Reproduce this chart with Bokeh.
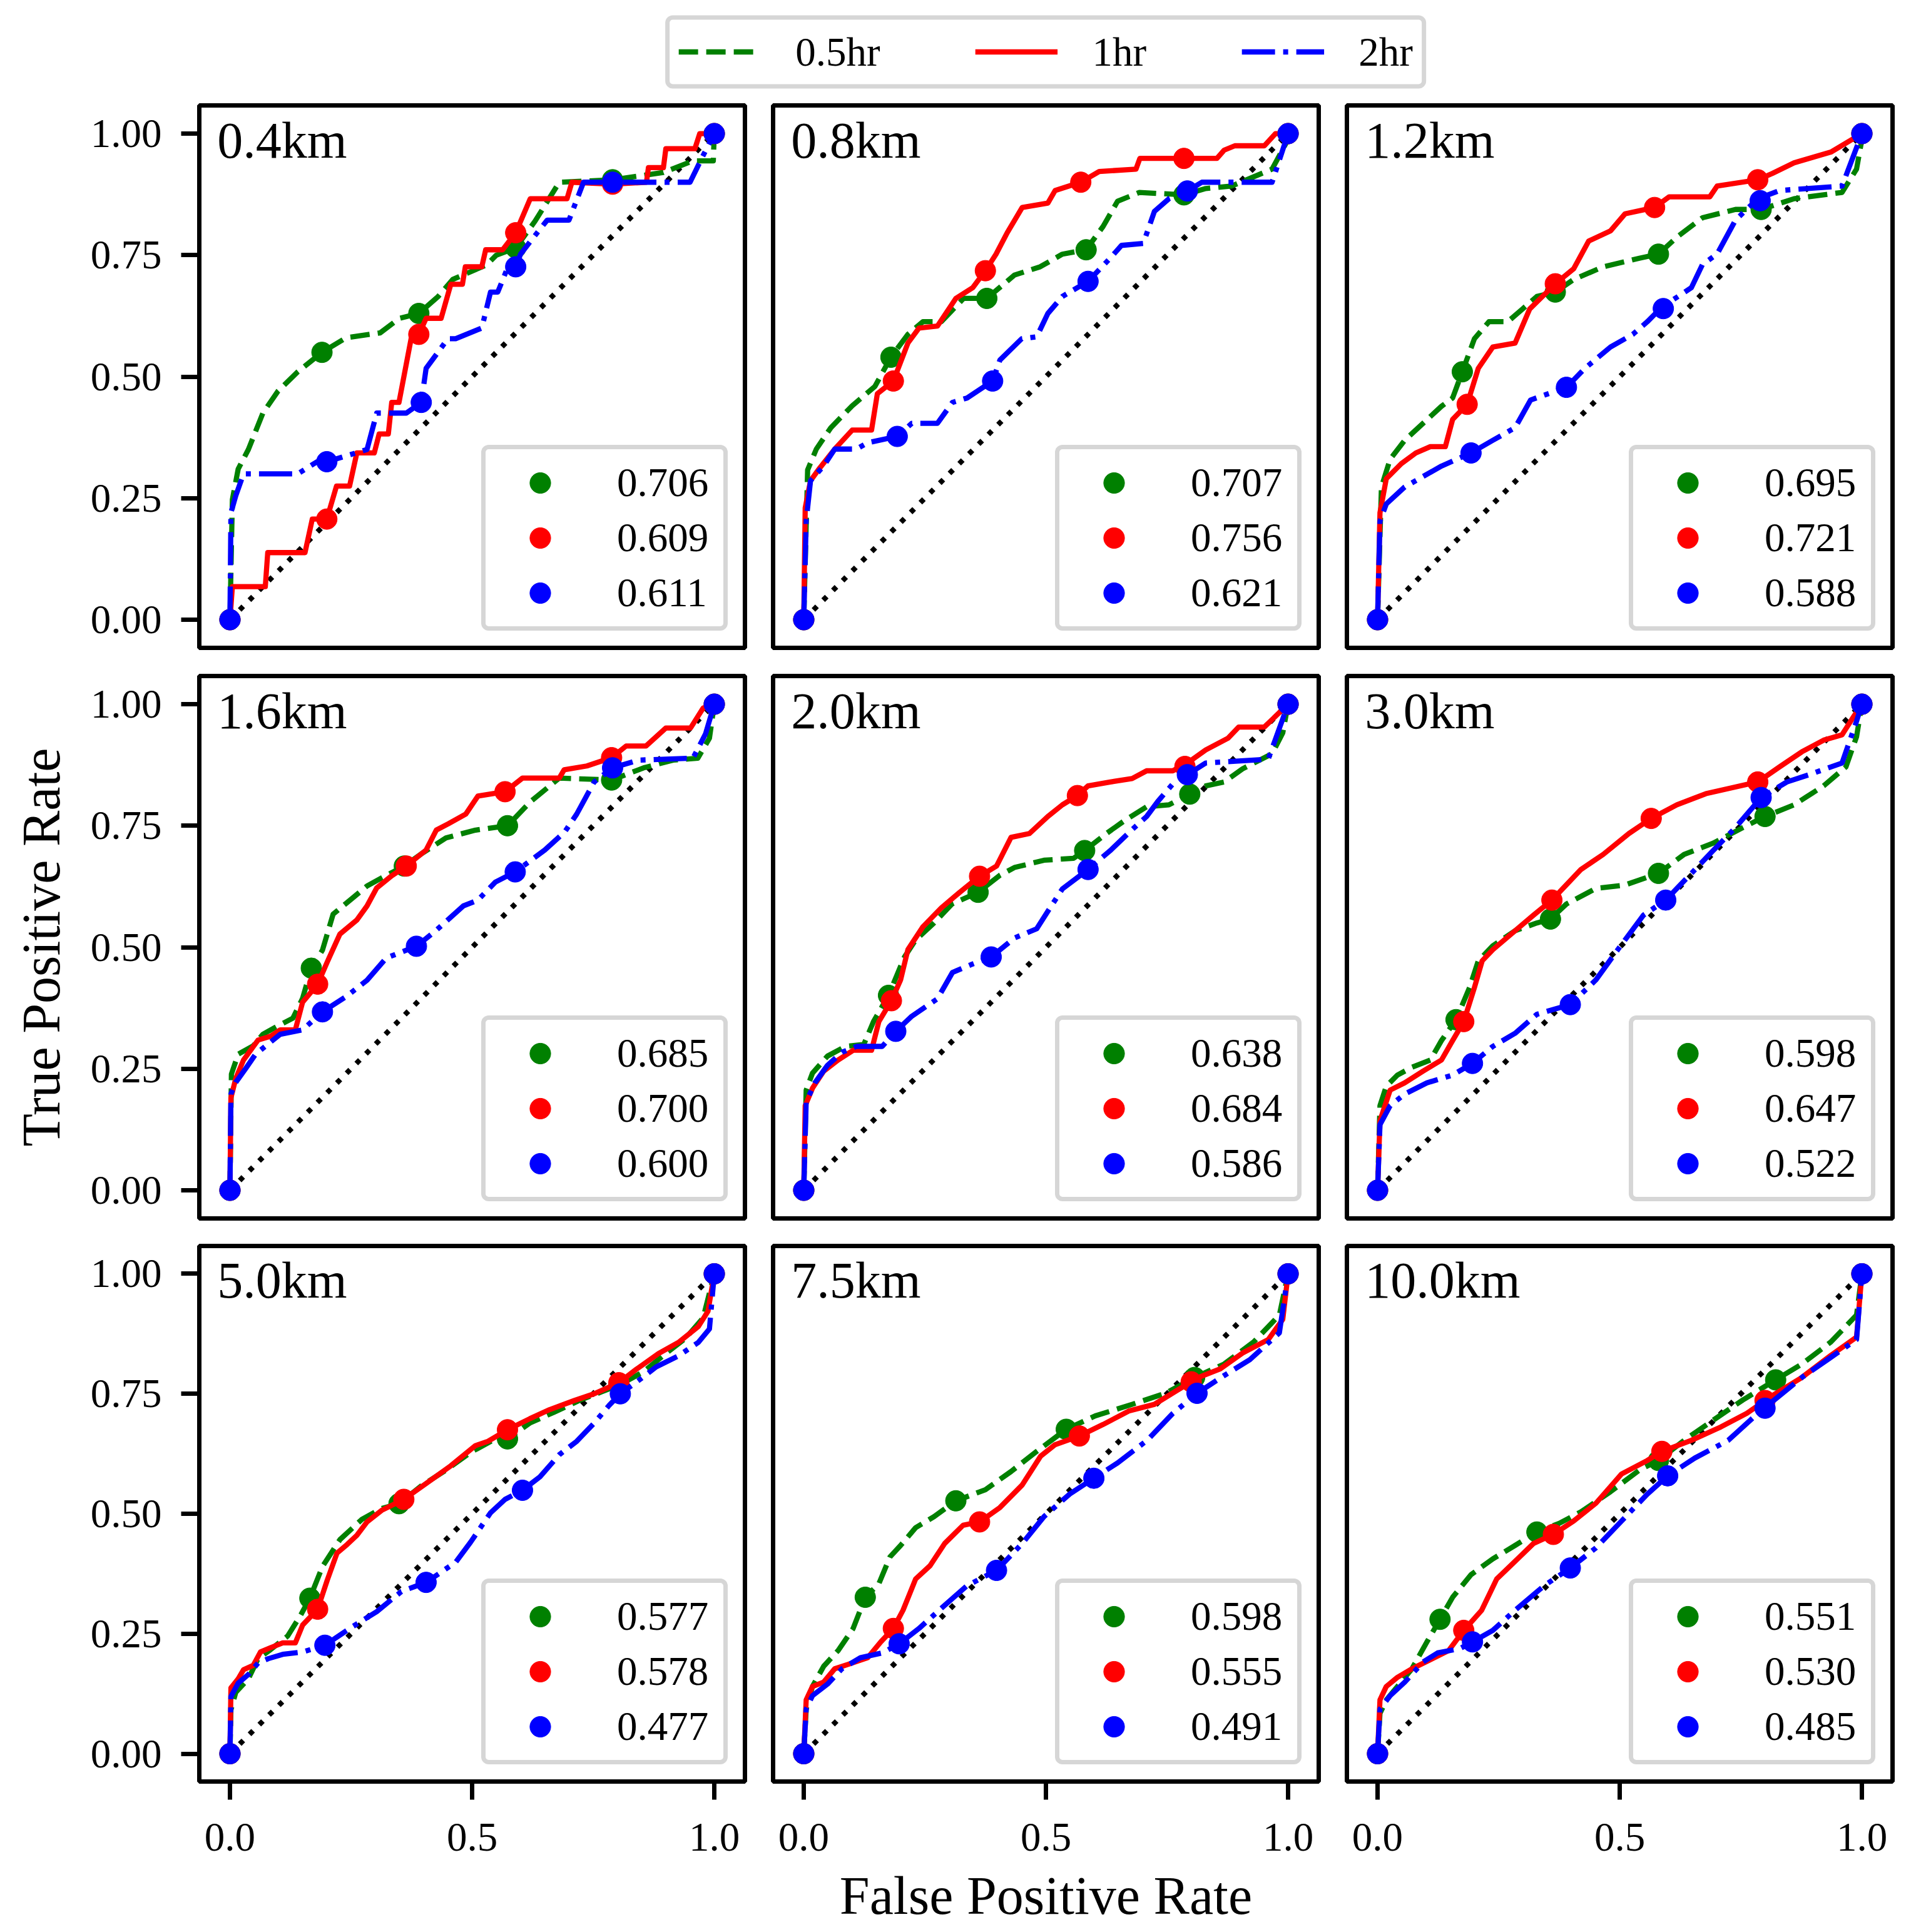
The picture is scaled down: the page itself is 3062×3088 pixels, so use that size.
from bokeh.plotting import figure
from bokeh.layouts import column, row
from bokeh.models import Legend, LegendItem, Range1d, PrintfTickFormatter, Label
from bokeh.embed import file_html
from bokeh.resources import INLINE

# ---- data ----
panel_names = ["0.4km", "0.8km", "1.2km", "1.6km", "2.0km", "3.0km", "5.0km", "7.5km", "10.0km"]
series_names = ["0.5hr", "1hr", "2hr"]

auc_04 = [0.706, 0.609, 0.611]
auc_08 = [0.707, 0.756, 0.621]
auc_12 = [0.695, 0.721, 0.588]
auc_16 = [0.685, 0.700, 0.600]
auc_20 = [0.638, 0.684, 0.586]
auc_30 = [0.598, 0.647, 0.522]
auc_50 = [0.577, 0.578, 0.477]
auc_75 = [0.598, 0.555, 0.491]
auc_100 = [0.551, 0.530, 0.485]

# (fpr, tpr) points of each curve, and the points that carry a marker
km04_h05 = [(0, 0), (0.005, 0.247), (0.017, 0.31), (0.038, 0.35), (0.068, 0.425), (0.099, 0.47), (0.14, 0.51),
            (0.19, 0.55), (0.24, 0.58), (0.31, 0.59), (0.35, 0.62), (0.39, 0.63), (0.43, 0.665), (0.46, 0.70),
            (0.53, 0.73), (0.55, 0.75), (0.59, 0.765), (0.63, 0.82), (0.68, 0.90), (0.79, 0.905), (0.895, 0.92),
            (0.956, 0.944), (0.998, 0.944), (1, 1)]
km04_h05_mk = [(0, 0), (0.19, 0.55), (0.39, 0.63), (0.59, 0.765), (0.79, 0.905), (1, 1)]
km04_h1 = [(0, 0), (0.005, 0.068), (0.073, 0.068), (0.078, 0.138), (0.155, 0.138), (0.17, 0.207), (0.2, 0.207),
           (0.22, 0.275), (0.247, 0.275), (0.262, 0.343), (0.298, 0.343), (0.308, 0.382), (0.327, 0.382),
           (0.334, 0.447), (0.349, 0.447), (0.374, 0.578), (0.39, 0.587), (0.405, 0.62), (0.436, 0.62),
           (0.456, 0.69), (0.48, 0.69), (0.486, 0.726), (0.52, 0.726), (0.528, 0.761), (0.563, 0.761),
           (0.59, 0.796), (0.62, 0.866), (0.696, 0.866), (0.706, 0.9), (0.79, 0.896), (0.86, 0.9), (0.864, 0.93),
           (0.895, 0.93), (0.9, 0.969), (0.96, 0.969), (0.97, 1), (1, 1)]
km04_h1_mk = [(0, 0), (0.2, 0.207), (0.39, 0.587), (0.59, 0.796), (0.79, 0.896), (1, 1)]
km04_h2 = [(0, 0), (0.002, 0.22), (0.012, 0.255), (0.028, 0.3), (0.14, 0.3), (0.18, 0.325), (0.2, 0.325),
           (0.283, 0.35), (0.303, 0.425), (0.364, 0.425), (0.395, 0.447), (0.405, 0.517), (0.45, 0.578),
           (0.466, 0.578), (0.52, 0.6), (0.538, 0.674), (0.553, 0.674), (0.574, 0.726), (0.59, 0.726),
           (0.6, 0.752), (0.62, 0.778), (0.655, 0.822), (0.7, 0.822), (0.73, 0.9), (0.79, 0.9), (0.95, 0.9),
           (0.976, 0.953), (1, 1)]
km04_h2_mk = [(0, 0), (0.2, 0.325), (0.395, 0.447), (0.59, 0.726), (0.79, 0.9), (1, 1)]

km08_h05 = [(0, 0), (0.008, 0.308), (0.026, 0.351), (0.056, 0.395), (0.1, 0.44), (0.147, 0.48), (0.18, 0.54),
            (0.215, 0.587), (0.246, 0.613), (0.284, 0.613), (0.33, 0.661), (0.378, 0.661), (0.435, 0.709),
            (0.488, 0.726), (0.534, 0.752), (0.583, 0.761), (0.618, 0.809), (0.648, 0.861), (0.693, 0.879),
            (0.785, 0.874), (0.83, 0.887), (0.883, 0.892), (0.967, 0.927), (1, 0.988), (1, 1)]
km08_h05_mk = [(0, 0), (0.18, 0.54), (0.378, 0.661), (0.583, 0.761), (0.785, 0.874), (1, 1)]
km08_h1 = [(0, 0), (0.003, 0.23), (0.014, 0.286), (0.033, 0.312), (0.064, 0.351), (0.1, 0.39), (0.14, 0.39),
           (0.152, 0.465), (0.185, 0.491), (0.215, 0.569), (0.238, 0.6), (0.276, 0.604), (0.314, 0.661),
           (0.349, 0.683), (0.375, 0.718), (0.397, 0.752), (0.42, 0.796), (0.451, 0.848), (0.504, 0.857),
           (0.519, 0.883), (0.572, 0.9), (0.61, 0.922), (0.686, 0.927), (0.694, 0.949), (0.853, 0.949),
           (0.868, 0.966), (0.89, 0.975), (0.951, 0.975), (0.974, 1), (1, 1)]
km08_h1_mk = [(0, 0), (0.185, 0.491), (0.375, 0.718), (0.572, 0.9), (0.785, 0.949), (1, 1)]
km08_h2 = [(0, 0), (0.005, 0.203), (0.014, 0.286), (0.041, 0.316), (0.064, 0.351), (0.109, 0.351), (0.132, 0.364),
           (0.193, 0.377), (0.223, 0.404), (0.276, 0.404), (0.307, 0.447), (0.337, 0.456), (0.39, 0.491),
           (0.405, 0.534), (0.45, 0.578), (0.481, 0.582), (0.504, 0.63), (0.534, 0.665), (0.587, 0.696),
           (0.633, 0.744), (0.656, 0.77), (0.701, 0.774), (0.724, 0.84), (0.754, 0.866), (0.792, 0.882),
           (0.822, 0.9), (0.967, 0.9), (1, 1)]
km08_h2_mk = [(0, 0), (0.193, 0.377), (0.39, 0.491), (0.587, 0.696), (0.792, 0.882), (1, 1)]

km12_h05 = [(0, 0), (0.008, 0.273), (0.026, 0.33), (0.056, 0.369), (0.094, 0.404), (0.132, 0.439), (0.155, 0.456),
            (0.175, 0.51), (0.2, 0.578), (0.23, 0.613), (0.269, 0.613), (0.299, 0.639), (0.329, 0.665),
            (0.367, 0.674), (0.405, 0.7), (0.466, 0.726), (0.542, 0.744), (0.58, 0.752), (0.618, 0.787),
            (0.671, 0.827), (0.739, 0.844), (0.792, 0.844), (0.86, 0.866), (0.959, 0.879), (0.989, 0.927),
            (1, 0.988), (1, 1)]
km12_h05_mk = [(0, 0), (0.175, 0.51), (0.367, 0.674), (0.58, 0.752), (0.792, 0.844), (1, 1)]
km12_h1 = [(0, 0), (0.005, 0.22), (0.018, 0.29), (0.049, 0.321), (0.079, 0.343), (0.109, 0.356), (0.14, 0.356),
           (0.155, 0.412), (0.185, 0.443), (0.208, 0.517), (0.238, 0.561), (0.284, 0.569), (0.314, 0.639),
           (0.367, 0.691), (0.405, 0.722), (0.436, 0.779), (0.481, 0.8), (0.511, 0.835), (0.572, 0.848),
           (0.602, 0.87), (0.686, 0.87), (0.701, 0.892), (0.785, 0.905), (0.815, 0.918), (0.86, 0.94),
           (0.936, 0.962), (1, 1)]
km12_h1_mk = [(0, 0), (0.185, 0.443), (0.367, 0.691), (0.572, 0.848), (0.785, 0.905), (1, 1)]
km12_h2 = [(0, 0), (0.005, 0.203), (0.018, 0.238), (0.056, 0.273), (0.086, 0.29), (0.132, 0.316), (0.193, 0.343),
           (0.238, 0.369), (0.284, 0.395), (0.316, 0.452), (0.39, 0.478), (0.428, 0.517), (0.481, 0.561),
           (0.527, 0.587), (0.557, 0.613), (0.587, 0.643), (0.648, 0.683), (0.671, 0.731), (0.701, 0.752),
           (0.739, 0.822), (0.785, 0.866), (0.83, 0.883), (0.959, 0.892), (1, 1)]
km12_h2_mk = [(0, 0), (0.193, 0.343), (0.39, 0.478), (0.59, 0.64), (0.79, 0.862), (1, 1)]

km16_h05 = [(0, 0), (0.003, 0.239), (0.017, 0.28), (0.048, 0.297), (0.068, 0.321), (0.099, 0.338), (0.13, 0.354),
            (0.15, 0.395), (0.168, 0.457), (0.191, 0.494), (0.213, 0.568), (0.253, 0.601), (0.283, 0.626),
            (0.314, 0.643), (0.36, 0.667), (0.395, 0.692), (0.446, 0.725), (0.507, 0.741), (0.573, 0.75),
            (0.62, 0.799), (0.68, 0.848), (0.788, 0.844), (0.854, 0.869), (0.915, 0.885), (0.966, 0.889),
            (0.99, 0.93), (1, 1)]
km16_h05_mk = [(0, 0), (0.168, 0.457), (0.36, 0.667), (0.573, 0.75), (0.788, 0.844), (1, 1)]
km16_h1 = [(0, 0), (0.002, 0.19), (0.012, 0.23), (0.028, 0.268), (0.058, 0.309), (0.084, 0.317), (0.104, 0.33),
           (0.135, 0.33), (0.15, 0.387), (0.181, 0.424), (0.201, 0.47), (0.227, 0.527), (0.262, 0.556),
           (0.283, 0.585), (0.303, 0.622), (0.334, 0.647), (0.364, 0.667), (0.405, 0.7), (0.426, 0.741),
           (0.451, 0.754), (0.487, 0.774), (0.512, 0.811), (0.568, 0.82), (0.604, 0.848), (0.68, 0.848),
           (0.69, 0.865), (0.737, 0.873), (0.788, 0.89), (0.818, 0.914), (0.859, 0.914), (0.9, 0.951),
           (0.951, 0.951), (0.977, 0.992), (1, 1)]
km16_h1_mk = [(0, 0), (0.181, 0.424), (0.364, 0.667), (0.568, 0.82), (0.788, 0.89), (1, 1)]
km16_h2 = [(0, 0), (0.002, 0.198), (0.012, 0.222), (0.033, 0.251), (0.053, 0.28), (0.084, 0.305), (0.104, 0.321),
           (0.15, 0.33), (0.191, 0.367), (0.242, 0.4), (0.283, 0.432), (0.323, 0.478), (0.385, 0.502),
           (0.426, 0.535), (0.482, 0.585), (0.512, 0.597), (0.548, 0.634), (0.589, 0.655), (0.65, 0.7),
           (0.691, 0.737), (0.716, 0.774), (0.752, 0.84), (0.79, 0.869), (0.844, 0.885), (0.956, 0.889),
           (0.982, 0.939), (1, 1)]
km16_h2_mk = [(0, 0), (0.191, 0.367), (0.385, 0.502), (0.589, 0.655), (0.79, 0.869), (1, 1)]

km20_h05 = [(0, 0), (0.005, 0.206), (0.018, 0.241), (0.049, 0.276), (0.086, 0.296), (0.124, 0.3), (0.144, 0.347),
            (0.175, 0.401), (0.208, 0.48), (0.231, 0.515), (0.269, 0.55), (0.306, 0.589), (0.36, 0.613),
            (0.405, 0.648), (0.435, 0.664), (0.496, 0.679), (0.557, 0.683), (0.58, 0.699), (0.625, 0.734),
            (0.663, 0.761), (0.708, 0.789), (0.754, 0.793), (0.797, 0.815), (0.83, 0.832), (0.868, 0.84),
            (0.906, 0.867), (0.967, 0.898), (0.989, 0.941), (1, 1)]
km20_h05_mk = [(0, 0), (0.175, 0.401), (0.36, 0.613), (0.58, 0.699), (0.797, 0.815), (1, 1)]
km20_h1 = [(0, 0), (0.003, 0.174), (0.018, 0.21), (0.041, 0.245), (0.071, 0.268), (0.102, 0.288), (0.14, 0.288),
           (0.155, 0.347), (0.181, 0.39), (0.2, 0.433), (0.215, 0.495), (0.246, 0.542), (0.284, 0.581),
           (0.322, 0.613), (0.363, 0.646), (0.398, 0.667), (0.428, 0.726), (0.466, 0.734), (0.504, 0.769),
           (0.534, 0.793), (0.565, 0.812), (0.587, 0.832), (0.633, 0.84), (0.678, 0.847), (0.708, 0.863),
           (0.762, 0.863), (0.792, 0.879), (0.83, 0.906), (0.876, 0.93), (0.898, 0.953), (0.951, 0.953), (1, 1)]
km20_h1_mk = [(0, 0), (0.181, 0.39), (0.363, 0.646), (0.565, 0.812), (0.787, 0.872), (1, 1)]
km20_h2 = [(0, 0), (0.005, 0.182), (0.023, 0.221), (0.049, 0.257), (0.079, 0.284), (0.109, 0.296), (0.162, 0.296),
           (0.19, 0.327), (0.223, 0.358), (0.276, 0.394), (0.307, 0.448), (0.345, 0.464), (0.387, 0.48),
           (0.435, 0.519), (0.481, 0.538), (0.504, 0.574), (0.534, 0.62), (0.587, 0.66), (0.633, 0.699),
           (0.678, 0.742), (0.708, 0.769), (0.731, 0.8), (0.762, 0.836), (0.792, 0.855), (0.83, 0.879),
           (0.959, 0.887), (1, 1)]
km20_h2_mk = [(0, 0), (0.19, 0.327), (0.387, 0.48), (0.587, 0.66), (0.792, 0.855), (1, 1)]

km30_h05 = [(0, 0), (0.005, 0.174), (0.018, 0.214), (0.041, 0.237), (0.071, 0.253), (0.109, 0.268), (0.132, 0.308),
            (0.162, 0.351), (0.19, 0.417), (0.208, 0.472), (0.238, 0.503), (0.284, 0.534), (0.329, 0.55),
            (0.357, 0.558), (0.39, 0.589), (0.451, 0.621), (0.511, 0.628), (0.58, 0.652), (0.633, 0.691),
            (0.693, 0.714), (0.754, 0.746), (0.8, 0.769), (0.86, 0.793), (0.921, 0.832), (0.967, 0.871),
            (0.989, 0.933), (1, 1)]
km30_h05_mk = [(0, 0), (0.162, 0.351), (0.357, 0.558), (0.58, 0.652), (0.8, 0.769), (1, 1)]
km30_h1 = [(0, 0), (0.005, 0.143), (0.026, 0.206), (0.056, 0.221), (0.094, 0.245), (0.132, 0.268), (0.155, 0.308),
           (0.178, 0.347), (0.2, 0.417), (0.216, 0.472), (0.238, 0.495), (0.284, 0.534), (0.322, 0.566),
           (0.36, 0.597), (0.42, 0.66), (0.466, 0.691), (0.519, 0.734), (0.565, 0.765), (0.618, 0.793),
           (0.678, 0.816), (0.731, 0.828), (0.785, 0.84), (0.83, 0.871), (0.876, 0.902), (0.921, 0.926),
           (0.959, 0.937), (0.982, 0.973), (1, 1)]
km30_h1_mk = [(0, 0), (0.178, 0.347), (0.36, 0.597), (0.565, 0.765), (0.785, 0.84), (1, 1)]
km30_h2 = [(0, 0), (0.005, 0.135), (0.026, 0.174), (0.056, 0.198), (0.102, 0.221), (0.155, 0.237), (0.196, 0.261),
           (0.238, 0.296), (0.284, 0.323), (0.329, 0.362), (0.398, 0.382), (0.451, 0.433), (0.496, 0.495),
           (0.549, 0.566), (0.595, 0.597), (0.648, 0.652), (0.693, 0.699), (0.739, 0.746), (0.792, 0.808),
           (0.845, 0.84), (0.891, 0.855), (0.959, 0.879), (0.989, 0.965), (1, 1)]
km30_h2_mk = [(0, 0), (0.196, 0.261), (0.398, 0.382), (0.595, 0.597), (0.792, 0.808), (1, 1)]

km50_h05 = [(0, 0), (0.002, 0.091), (0.012, 0.128), (0.038, 0.156), (0.058, 0.198), (0.084, 0.217), (0.119, 0.245),
            (0.145, 0.287), (0.165, 0.324), (0.191, 0.39), (0.227, 0.446), (0.272, 0.488), (0.313, 0.511),
            (0.349, 0.521), (0.395, 0.558), (0.446, 0.591), (0.497, 0.628), (0.548, 0.656), (0.573, 0.656),
            (0.619, 0.689), (0.67, 0.712), (0.721, 0.736), (0.767, 0.754), (0.803, 0.768), (0.854, 0.796),
            (0.9, 0.834), (0.941, 0.866), (0.977, 0.908), (1, 1)]
km50_h05_mk = [(0, 0), (0.165, 0.324), (0.349, 0.521), (0.573, 0.656), (0.803, 0.768), (1, 1)]
km50_h1 = [(0, 0), (0.002, 0.137), (0.017, 0.156), (0.028, 0.175), (0.048, 0.184), (0.063, 0.212), (0.084, 0.221),
           (0.109, 0.231), (0.135, 0.231), (0.15, 0.268), (0.181, 0.301), (0.201, 0.362), (0.221, 0.418),
           (0.242, 0.436), (0.262, 0.455), (0.283, 0.483), (0.313, 0.507), (0.359, 0.53), (0.405, 0.563),
           (0.456, 0.6), (0.507, 0.642), (0.533, 0.651), (0.573, 0.675), (0.619, 0.698), (0.66, 0.717),
           (0.711, 0.736), (0.752, 0.75), (0.803, 0.773), (0.839, 0.801), (0.885, 0.834), (0.926, 0.857),
           (0.967, 0.89), (0.987, 0.922), (1, 1)]
km50_h1_mk = [(0, 0), (0.181, 0.301), (0.359, 0.53), (0.573, 0.675), (0.803, 0.773), (1, 1)]
km50_h2 = [(0, 0), (0.002, 0.119), (0.017, 0.147), (0.038, 0.165), (0.058, 0.189), (0.079, 0.198), (0.109, 0.207),
           (0.15, 0.212), (0.196, 0.226), (0.252, 0.264), (0.303, 0.296), (0.354, 0.338), (0.405, 0.357),
           (0.466, 0.399), (0.497, 0.441), (0.538, 0.502), (0.568, 0.53), (0.604, 0.549), (0.64, 0.577),
           (0.68, 0.623), (0.716, 0.651), (0.752, 0.689), (0.783, 0.726), (0.806, 0.75), (0.844, 0.778),
           (0.88, 0.806), (0.926, 0.829), (0.967, 0.857), (0.99, 0.885), (1, 1)]
km50_h2_mk = [(0, 0), (0.196, 0.226), (0.405, 0.357), (0.604, 0.549), (0.806, 0.75), (1, 1)]

km75_h05 = [(0, 0), (0.005, 0.093), (0.018, 0.14), (0.041, 0.182), (0.071, 0.215), (0.102, 0.261), (0.127, 0.326),
            (0.155, 0.354), (0.178, 0.41), (0.2, 0.434), (0.231, 0.471), (0.269, 0.494), (0.314, 0.527),
            (0.375, 0.55), (0.428, 0.588), (0.481, 0.63), (0.542, 0.676), (0.602, 0.704), (0.678, 0.728),
            (0.747, 0.751), (0.807, 0.784), (0.868, 0.812), (0.929, 0.858), (0.982, 0.914), (1, 1)]
km75_h05_mk = [(0, 0), (0.127, 0.326), (0.314, 0.527), (0.542, 0.676), (0.807, 0.784), (1, 1)]
km75_h1 = [(0, 0), (0.005, 0.112), (0.018, 0.14), (0.041, 0.149), (0.064, 0.177), (0.094, 0.187), (0.132, 0.2),
           (0.159, 0.233), (0.185, 0.261), (0.205, 0.299), (0.231, 0.364), (0.261, 0.392), (0.291, 0.438),
           (0.329, 0.476), (0.363, 0.483), (0.405, 0.513), (0.451, 0.56), (0.489, 0.62), (0.519, 0.644),
           (0.569, 0.662), (0.618, 0.686), (0.671, 0.714), (0.724, 0.728), (0.769, 0.756), (0.815, 0.784),
           (0.86, 0.802), (0.906, 0.835), (0.959, 0.863), (0.989, 0.905), (1, 1)]
km75_h1_mk = [(0, 0), (0.185, 0.261), (0.363, 0.483), (0.569, 0.662), (0.8, 0.775), (1, 1)]
km75_h2 = [(0, 0), (0.005, 0.093), (0.018, 0.121), (0.049, 0.145), (0.079, 0.177), (0.117, 0.2), (0.162, 0.21),
           (0.197, 0.229), (0.238, 0.261), (0.284, 0.303), (0.337, 0.35), (0.398, 0.382), (0.451, 0.438),
           (0.496, 0.494), (0.549, 0.541), (0.599, 0.574), (0.648, 0.606), (0.709, 0.653), (0.762, 0.709),
           (0.812, 0.751), (0.868, 0.788), (0.921, 0.821), (0.982, 0.877), (1, 1)]
km75_h2_mk = [(0, 0), (0.197, 0.229), (0.398, 0.382), (0.599, 0.574), (0.812, 0.751), (1, 1)]

km100_h05 = [(0, 0), (0.005, 0.084), (0.018, 0.112), (0.041, 0.14), (0.071, 0.177), (0.102, 0.233), (0.129, 0.28),
             (0.155, 0.326), (0.193, 0.373), (0.238, 0.406), (0.284, 0.434), (0.329, 0.462), (0.375, 0.48),
             (0.42, 0.504), (0.481, 0.546), (0.542, 0.592), (0.58, 0.611), (0.633, 0.653), (0.693, 0.695),
             (0.754, 0.737), (0.822, 0.779), (0.876, 0.812), (0.936, 0.858), (0.989, 0.914), (1, 1)]
km100_h05_mk = [(0, 0), (0.129, 0.28), (0.329, 0.462), (0.58, 0.611), (0.822, 0.779), (1, 1)]
km100_h1 = [(0, 0), (0.005, 0.112), (0.018, 0.14), (0.041, 0.159), (0.071, 0.177), (0.109, 0.196), (0.147, 0.215),
            (0.178, 0.257), (0.215, 0.299), (0.246, 0.364), (0.284, 0.401), (0.322, 0.438), (0.363, 0.457),
            (0.405, 0.485), (0.451, 0.522), (0.504, 0.583), (0.557, 0.611), (0.587, 0.63), (0.648, 0.653),
            (0.709, 0.681), (0.762, 0.709), (0.815, 0.746), (0.876, 0.784), (0.936, 0.83), (0.989, 0.868), (1, 1)]
km100_h1_mk = [(0, 0), (0.178, 0.257), (0.363, 0.457), (0.587, 0.63), (0.8, 0.736), (1, 1)]
km100_h2 = [(0, 0), (0.005, 0.093), (0.026, 0.121), (0.056, 0.149), (0.094, 0.191), (0.124, 0.21), (0.17, 0.219),
            (0.196, 0.233), (0.238, 0.257), (0.284, 0.299), (0.344, 0.35), (0.398, 0.387), (0.451, 0.429),
            (0.504, 0.485), (0.557, 0.541), (0.599, 0.579), (0.655, 0.616), (0.724, 0.653), (0.785, 0.709),
            (0.819, 0.737), (0.876, 0.784), (0.929, 0.821), (0.989, 0.863), (1, 1)]
km100_h2_mk = [(0, 0), (0.196, 0.233), (0.398, 0.387), (0.599, 0.579), (0.8, 0.72), (1, 1)]

panels = [
    ([km04_h05, km04_h1, km04_h2], [km04_h05_mk, km04_h1_mk, km04_h2_mk], auc_04),
    ([km08_h05, km08_h1, km08_h2], [km08_h05_mk, km08_h1_mk, km08_h2_mk], auc_08),
    ([km12_h05, km12_h1, km12_h2], [km12_h05_mk, km12_h1_mk, km12_h2_mk], auc_12),
    ([km16_h05, km16_h1, km16_h2], [km16_h05_mk, km16_h1_mk, km16_h2_mk], auc_16),
    ([km20_h05, km20_h1, km20_h2], [km20_h05_mk, km20_h1_mk, km20_h2_mk], auc_20),
    ([km30_h05, km30_h1, km30_h2], [km30_h05_mk, km30_h1_mk, km30_h2_mk], auc_30),
    ([km50_h05, km50_h1, km50_h2], [km50_h05_mk, km50_h1_mk, km50_h2_mk], auc_50),
    ([km75_h05, km75_h1, km75_h2], [km75_h05_mk, km75_h1_mk, km75_h2_mk], auc_75),
    ([km100_h05, km100_h1, km100_h2], [km100_h05_mk, km100_h1_mk, km100_h2_mk], auc_100),
]

# ---- style ----
FONT = "Liberation Serif"
COLORS = ["green", "red", "blue"]
DASHES = ["31 13", "solid", "53 13 8 13"]
LW = 8.3
FRAME_W, FRAME_H = 872, 867
LEFT_W = 318       # room for y ticks + y label
RIGHT_W = 20       # after the last column
BOTTOM_H = 222     # room for x ticks + x label
TOP_H = 146        # shared legend strip
XR = (-0.0633, 1.0633)
YR = (-0.058, 1.058)


def unzip(pts):
    return [p[0] for p in pts], [p[1] for p in pts]


def style_legend(leg):
    leg.label_text_font = FONT
    leg.label_text_font_size = "65px"
    leg.label_text_color = "black"
    leg.border_line_color = "#cccccc"
    leg.border_line_width = 7
    leg.border_line_alpha = 0.8
    leg.background_fill_alpha = 0.8
    if "border_radius" in Legend.properties():
        leg.border_radius = 12


def make_panel(i):
    r, c = divmod(i, 3)
    curves, marks, aucs = panels[i]
    left = LEFT_W if c == 0 else 23
    right = RIGHT_W if c == 2 else 22
    top = 23 if r == 1 else 22
    bottom = BOTTOM_H if r == 2 else 22
    p = figure(width=left + FRAME_W + right, height=top + FRAME_H + bottom,
               x_range=Range1d(*XR), y_range=Range1d(*YR),
               x_axis_location="below" if r == 2 else None,
               y_axis_location="left" if c == 0 else None,
               min_border_left=left, min_border_right=right,
               min_border_top=top, min_border_bottom=bottom,
               output_backend="svg", toolbar_location=None, tools="")
    p.grid.visible = False
    p.outline_line_color = "black"
    p.outline_line_width = 7
    p.background_fill_color = "white"
    p.border_fill_color = "white"

    for ax in p.axis:
        ax.axis_line_color = None
        ax.major_tick_out = 29
        ax.major_tick_in = 0
        ax.major_tick_line_width = 7
        ax.minor_tick_line_color = None
        ax.major_label_text_font = FONT
        ax.major_label_text_font_size = "65px"
        ax.major_label_text_color = "black"
        ax.axis_label_text_font = FONT
        ax.axis_label_text_font_size = "86px"
        ax.axis_label_text_font_style = "normal"
        ax.axis_label_text_color = "black"
    if c == 0:
        p.yaxis.ticker = [0, 0.25, 0.5, 0.75, 1.0]
        p.yaxis.formatter = PrintfTickFormatter(format="%.2f")
        p.yaxis.major_label_standoff = 31
        if r == 1:
            p.yaxis.axis_label = "True Positive Rate"
            p.yaxis.axis_label_standoff = 28
    if r == 2:
        p.xaxis.ticker = [0, 0.5, 1.0]
        p.xaxis.formatter = PrintfTickFormatter(format="%.1f")
        p.xaxis.major_label_standoff = 38
        if c == 1:
            p.xaxis.axis_label = "False Positive Rate"
            p.xaxis.axis_label_standoff = 21

    # chance diagonal
    p.line([0, 1], [0, 1], line_color="black", line_width=LW, line_dash="8 14")

    items = []
    for k in range(3):
        xs, ys = unzip(curves[k])
        mx, my = unzip(marks[k])
        p.line(xs, ys, line_color=COLORS[k], line_width=LW, line_dash=DASHES[k], line_join="round")
        sr = p.scatter(mx, my, size=33, fill_color=COLORS[k], line_color=COLORS[k], line_width=1)
        items.append(LegendItem(label=f"{aucs[k]:.3f}", renderers=[sr]))

    leg = Legend(items=items, location="bottom_right")
    leg.margin = 27
    leg.padding = 12
    leg.spacing = 5
    leg.glyph_width = 150
    leg.glyph_height = 83
    leg.label_height = 83
    leg.label_width = 158
    leg.label_standoff = 48
    style_legend(leg)
    p.add_layout(leg)

    p.add_layout(Label(x=-0.026, y=0.986, text=panel_names[i], text_font=FONT, text_color="black",
                       text_font_size="82px", text_baseline="alphabetic", text_align="left"))
    return p


# ---- shared legend strip on top (its lines sit outside the visible y range) ----
total_w = LEFT_W + 3 * FRAME_W + 23 + 22 + 23 + 22 + RIGHT_W
lf = figure(width=total_w, height=TOP_H, x_axis_location=None, y_axis_location=None,
            x_range=Range1d(0, 1), y_range=Range1d(5, 6),
            min_border_left=LEFT_W, min_border_right=RIGHT_W, min_border_top=19, min_border_bottom=0,
            output_backend="svg", toolbar_location=None, tools="")
lf.grid.visible = False
lf.outline_line_color = None
top_items = []
for k, pts in enumerate([km04_h05, km04_h1, km04_h2]):
    xs, ys = unzip(pts)
    lr = lf.line(xs, ys, line_color=COLORS[k], line_width=LW, line_dash=DASHES[k])
    top_items.append(LegendItem(label=series_names[k], renderers=[lr]))
top = Legend(items=top_items, orientation="horizontal", location="center")
top.margin = 0
top.padding = 14
top.spacing = 152
top.glyph_width = 132
top.glyph_height = 62
top.label_height = 62
top.label_standoff = 55
style_legend(top)
lf.add_layout(top)

figs = [make_panel(i) for i in range(9)]
p = column(lf, row(*figs[0:3]), row(*figs[3:6]), row(*figs[6:9]))

open("out.html", "w").write(file_html(p, INLINE))
